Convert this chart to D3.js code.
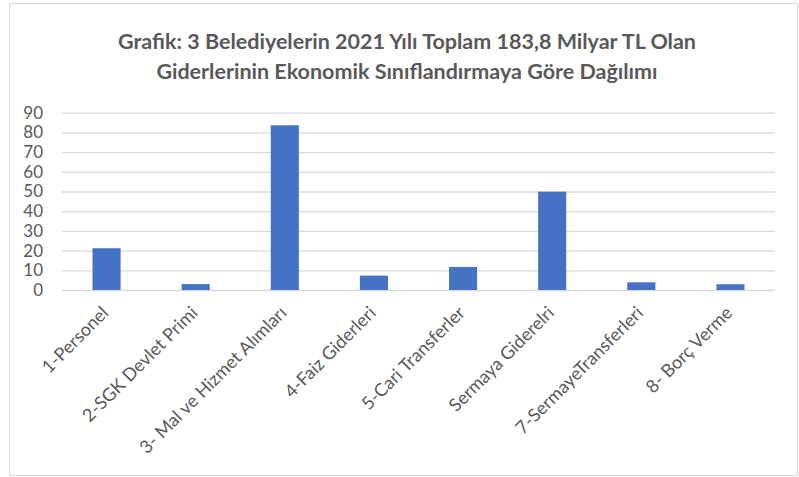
<!DOCTYPE html>
<html>
<head>
<meta charset="utf-8">
<script src="https://cdn.jsdelivr.net/npm/d3@7"></script>
<style>
  body { margin: 0; background: #fff; }
  svg { display: block; }
  .title { font-family: Lato, "Open Sans", sans-serif; font-weight: bold; font-size: 21.5px; fill: #595959; }
  .tick text { font-family: Lato, "Open Sans", sans-serif; font-size: 17px; fill: #595959; }
</style>
</head>
<body>
<script>
// category labels and values (milyar TL)
const categories = [
  "1-Personel",
  "2-SGK Devlet Primi",
  "3- Mal ve Hizmet Alımları",
  "4-Faiz Giderleri",
  "5-Cari Transferler",
  "Sermaya Giderelri",
  "7-SermayeTransferleri",
  "8- Borç Verme"
];
const values = [21.2, 3.0, 83.6, 7.3, 11.7, 49.9, 3.9, 2.9];
const yTicks = [0, 10, 20, 30, 40, 50, 60, 70, 80, 90];
const titleLines = [
  "Grafik: 3 Belediyelerin 2021 Yılı Toplam 183,8 Milyar TL Olan",
  "Giderlerinin Ekonomik Sınıflandırmaya Göre Dağılımı"
];

const width = 799, height = 477;
const margin = { top: 112.7, right: 24, bottom: 187, left: 62 };

const svg = d3.select("body").append("svg")
  .attr("width", width)
  .attr("height", height);

// chart frame
svg.append("rect")
  .attr("x", 9.5).attr("y", 3.5)
  .attr("width", 788).attr("height", 472)
  .attr("fill", "#fff")
  .attr("stroke", "#d9d9d9");

svg.append("g")
  .selectAll("text")
  .data(titleLines)
  .join("text")
  .attr("class", "title")
  .attr("x", 407)
  .attr("y", (d, i) => 49 + i * 30)
  .attr("text-anchor", "middle")
  .text(d => d);

const x = d3.scaleBand()
  .domain(categories)
  .range([margin.left, width - margin.right])
  .paddingInner(0.685)
  .paddingOuter(0.3425);

const y = d3.scaleLinear()
  .domain([0, 90])
  .range([height - margin.bottom, margin.top]);

// gridlines + y labels
const yAxis = svg.append("g")
  .attr("transform", `translate(${margin.left},0)`)
  .call(d3.axisLeft(y)
    .tickValues(yTicks)
    .tickSize(-(width - margin.left - margin.right))
    .tickPadding(19));
yAxis.select(".domain").remove();
yAxis.selectAll(".tick line").attr("stroke", "#d9d9d9").attr("stroke-width", 1.3);

svg.append("g")
  .selectAll("rect")
  .data(values)
  .join("rect")
  .attr("x", (d, i) => x(categories[i]))
  .attr("y", d => y(d))
  .attr("width", x.bandwidth())
  .attr("height", d => y(0) - y(d))
  .attr("fill", "#4472c4");

// rotated category labels
const xAxis = svg.append("g")
  .attr("transform", `translate(0,${height - margin.bottom})`)
  .call(d3.axisBottom(x).tickSize(0).tickPadding(0));
xAxis.select(".domain").remove();
xAxis.selectAll(".tick text")
  .style("font-size", "18px")
  .attr("text-anchor", "end")
  .attr("dy", 0)
  .attr("transform", "translate(3,24) rotate(-45)");
</script>
</body>
</html>
